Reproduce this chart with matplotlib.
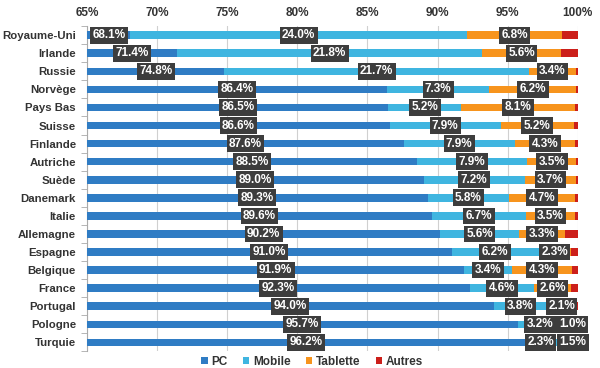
import matplotlib
matplotlib.use("Agg")
import matplotlib.pyplot as plt
import numpy as np

countries = ["Royaume-Uni", "Irlande", "Russie", "Norvège", "Pays Bas", "Suisse",
             "Finlande", "Autriche", "Suède", "Danemark", "Italie", "Allemagne",
             "Espagne", "Belgique", "France", "Portugal", "Pologne", "Turquie"]
pc = [68.1, 71.4, 74.8, 86.4, 86.5, 86.6, 87.6, 88.5, 89.0, 89.3, 89.6, 90.2,
      91.0, 91.9, 92.3, 94.0, 95.7, 96.2]
mobile = [24.0, 21.8, 21.7, 7.3, 5.2, 7.9, 7.9, 7.9, 7.2, 5.8, 6.7, 5.6,
          6.2, 3.4, 4.6, 3.8, 3.2, 2.3]
tablette = [6.8, 5.6, 3.4, 6.2, 8.1, 5.2, 4.3, 3.5, 3.7, 4.7, 3.5, 3.3,
            2.3, 4.3, 2.6, 2.1, 1.0, 1.5]
autres = [1.1, 1.2, 0.1, 0.1, 0.2, 0.3, 0.2, 0.1, 0.1, 0.2, 0.2, 0.9,
          0.5, 0.4, 0.5, 0.1, 0.1, 0.0]
series_names = ["PC", "Mobile", "Tablette", "Autres"]
colors = ["#2f7cc4", "#3fb5e0", "#f7941d", "#cc1f1a"]
xticks = [65, 70, 75, 80, 85, 90, 95, 100]

plt.rcParams['font.family'] = ['Liberation Sans', 'DejaVu Sans']
fig = plt.figure(figsize=(6, 3.68), dpi=100)
ax = fig.add_axes([0.145, 0.045, 0.818, 0.884])

y = np.arange(len(countries))
h = 0.42
left = np.zeros(len(countries))
data = [pc, mobile, tablette, autres]
for vals, c, name in zip(data, colors, series_names):
    ax.barh(y, vals, left=left, height=h, color=c, label=name, zorder=2)
    left = left + np.array(vals)

box = dict(boxstyle="square,pad=0.2", facecolor="#3d3d3d", edgecolor="none")
min_gap = 2.3
for i in range(len(countries)):
    x_pc = (65 + pc[i]) / 2
    x_mo = pc[i] + mobile[i] / 2
    x_ta = pc[i] + mobile[i] + tablette[i] / 2
    if x_ta - x_mo < min_gap:
        x_ta = x_mo + min_gap
    for xv, v in zip([x_pc, x_mo, x_ta], [pc[i], mobile[i], tablette[i]]):
        ax.text(xv, y[i], f"{v:.1f}%", ha="center", va="center", color="white",
                fontsize=8.5, fontweight="bold", bbox=box, zorder=4, clip_on=False)

ax.set_xlim(65, 100)
ax.set_ylim(len(countries) - 0.5, -0.5)
ax.set_xticks(xticks)
ax.set_xticklabels([f"{t}%" for t in xticks])
ax.xaxis.tick_top()
ax.tick_params(axis="x", length=0, labelsize=8.5, labelcolor="#333333", pad=5)
for lbl in ax.get_xticklabels():
    lbl.set_fontweight("bold")
ax.set_yticks(y)
ax.set_yticklabels(countries)
ax.tick_params(axis="y", length=0, labelsize=8.2, labelcolor="#333333", pad=8)
for lbl in ax.get_yticklabels():
    lbl.set_fontweight("bold")
ax.set_yticks(np.arange(-0.5, len(countries), 1), minor=True)
ax.tick_params(axis="y", which="minor", length=4, color="#aaaaaa", direction="out")

ax.grid(axis="x", color="#d0d0d0", linewidth=0.8, zorder=0)
ax.set_axisbelow(True)
for s in ["top", "right", "bottom"]:
    ax.spines[s].set_visible(False)
ax.spines["left"].set_color("#aaaaaa")
ax.spines["left"].set_zorder(1)

leg = fig.legend(loc="lower center", bbox_to_anchor=(0.52, -0.028), ncol=4, frameon=False,
                 handlelength=0.55, handleheight=0.55, handletextpad=0.3,
                 columnspacing=1.3, prop={"weight": "bold", "size": 8.5})
for t in leg.get_texts():
    t.set_color("#333333")

fig.savefig("out.png", dpi=100)
